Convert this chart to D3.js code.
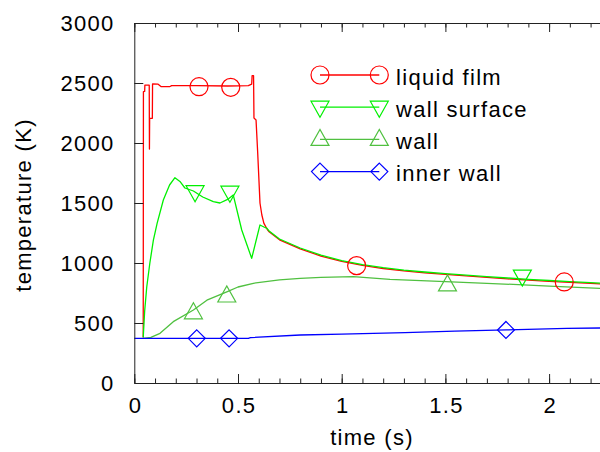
<!DOCTYPE html>
<html>
<head>
<meta charset="utf-8">
<script src="https://cdn.jsdelivr.net/npm/d3@7"></script>
<style>
  body { margin: 0; background: #fff; }
  svg { display: block; }
  text { font-family: "Liberation Sans", Arial, Helvetica, sans-serif; font-size: 22px; letter-spacing: 1.3px; fill: #000; }
  .line { fill: none; stroke-width: 1.3; stroke-linejoin: round; }
  .marker { fill: none; stroke-width: 1.2; }
</style>
</head>
<body>
<script>
// series data: [time (s), temperature (K)]
var liquidFilm = [
  [0.043, 380], [0.044, 2428], [0.050, 2430], [0.051, 2483], [0.072, 2483],
  [0.073, 1950], [0.074, 2206], [0.087, 2206], [0.088, 2492], [0.115, 2490],
  [0.13, 2469], [0.17, 2469], [0.18, 2478], [0.3, 2478], [0.45, 2475],
  [0.55, 2478], [0.566, 2490], [0.568, 2561], [0.575, 2561], [0.577, 2208],
  [0.587, 2192], [0.595, 1917], [0.606, 1500], [0.615, 1400], [0.625, 1330],
  [0.64, 1283], [0.65, 1260], [0.7, 1193], [0.8, 1118], [0.9, 1058],
  [1.0, 1013], [1.1, 980], [1.2, 954], [1.3, 934], [1.4, 918], [1.5, 905],
  [1.6, 892], [1.7, 880], [1.8, 868], [1.9, 857], [2.0, 847], [2.1, 838],
  [2.2, 830], [2.3, 822]
];
var wallSurface = [
  [0.043, 380], [0.05, 600], [0.06, 800], [0.075, 1000], [0.092, 1190],
  [0.11, 1330], [0.14, 1525], [0.17, 1650], [0.196, 1711], [0.22, 1680],
  [0.244, 1625], [0.285, 1600], [0.33, 1550], [0.381, 1511], [0.413, 1500],
  [0.45, 1530], [0.477, 1567], [0.518, 1275], [0.566, 1039], [0.606, 1317],
  [0.625, 1300], [0.64, 1288], [0.65, 1266], [0.7, 1200], [0.8, 1125],
  [0.9, 1065], [1.0, 1020], [1.1, 987], [1.2, 961], [1.3, 941], [1.4, 925],
  [1.5, 912], [1.6, 899], [1.7, 887], [1.8, 875], [1.9, 864], [2.0, 854],
  [2.1, 844], [2.2, 836], [2.3, 828]
];
var wall = [
  [0.043, 372], [0.08, 380], [0.124, 414], [0.188, 511], [0.285, 608],
  [0.35, 690], [0.446, 760], [0.5, 800], [0.574, 831], [0.7, 860],
  [0.8, 872], [0.9, 880], [1.056, 886], [1.233, 864], [1.5, 844],
  [1.7, 831], [2.0, 808], [2.3, 785]
];
var innerWall = [
  [0.0, 372], [0.55, 372], [0.56, 378], [0.8, 400], [1.0, 408], [1.305, 419],
  [1.546, 433], [1.795, 442], [2.085, 456], [2.3, 459]
];

// marker points
var liquidFilmMarks = [[0.312, 2469], [0.465, 2464], [1.072, 978], [2.073, 842]];
var wallSurfaceMarks = [[0.293, 1594], [0.461, 1590], [1.871, 891]];
var wallMarks = [[0.285, 585], [0.446, 725], [1.51, 817]];
var innerWallMarks = [[0.301, 372], [0.457, 372], [1.792, 442]];

var legendLabels = ["liquid film", "wall surface", "wall", "inner wall"];
var xLabels = [0, 0.5, 1, 1.5, 2];
var xMajor = [0, 0.5, 1, 1.5, 2, 2.5];
var xMinor = d3.range(0, 26).map(function(i) { return i / 10; });
var yTicks = [0, 500, 1000, 1500, 2000, 2500, 3000];

var width = 600, height = 452;
var x = d3.scaleLinear().domain([0, 2.5]).range([134.3, 652.8]);
var y = d3.scaleLinear().domain([0, 3000]).range([383, 23]);

var svg = d3.select("body").append("svg")
    .attr("width", width)
    .attr("height", height);

var series = [
  {name: legendLabels[0], data: liquidFilm, marks: liquidFilmMarks, color: "#ff0000", shape: "circle"},
  {name: legendLabels[1], data: wallSurface, marks: wallSurfaceMarks, color: "#00f000", shape: "down"},
  {name: legendLabels[2], data: wall, marks: wallMarks, color: "#50c040", shape: "up"},
  {name: legendLabels[3], data: innerWall, marks: innerWallMarks, color: "#0000ff", shape: "diamond"}
];

function markerPath(shape) {
  if (shape == "circle") return "M9,0A9,9 0 1,1 -9,0A9,9 0 1,1 9,0Z";
  if (shape == "down") return "M-9,-6L9,-6L0,10Z";
  if (shape == "up") return "M-9,6L9,6L0,-10Z";
  return "M0,-8.5L8.5,0L0,8.5L-8.5,0Z";
}

var valueline = d3.line()
    .x(function(d) { return x(d[0]); })
    .y(function(d) { return y(d[1]); });

// lines and markers
series.forEach(function(s) {
  svg.append("path")
      .datum(s.data)
      .attr("class", "line")
      .attr("stroke", s.color)
      .attr("d", valueline);
});
series.forEach(function(s) {
  svg.selectAll(null)
      .data(s.marks)
      .enter().append("path")
      .attr("class", "marker")
      .attr("stroke", s.color)
      .attr("d", markerPath(s.shape))
      .attr("transform", function(d) { return "translate(" + x(d[0]) + "," + y(d[1]) + ")"; });
});

// axes (ticks point inward)
svg.append("g")
    .attr("transform", "translate(0," + y(0) + ")")
    .call(d3.axisBottom(x).tickValues(xMinor).tickSize(-4.5).tickSizeOuter(0).tickFormat(""));
svg.append("g")
    .attr("transform", "translate(0," + y(0) + ")")
    .call(d3.axisBottom(x).tickValues(xMajor).tickSize(-9).tickSizeOuter(0).tickFormat(""));
svg.append("g")
    .attr("class", "xaxis")
    .attr("transform", "translate(0," + y(0) + ")")
    .call(d3.axisBottom(x).tickValues(xLabels).tickSize(0).tickSizeOuter(0)
      .tickFormat(function(d) { return d; }));
svg.append("g")
    .attr("transform", "translate(0," + y(3000) + ")")
    .call(d3.axisTop(x).tickValues(xMinor).tickSize(-4.5).tickSizeOuter(0).tickFormat(""));
svg.append("g")
    .attr("transform", "translate(0," + y(3000) + ")")
    .call(d3.axisTop(x).tickValues(xMajor).tickSize(-9).tickSizeOuter(0).tickFormat(""));
svg.append("g")
    .attr("class", "yaxis")
    .attr("transform", "translate(" + x(0) + ",0)")
    .call(d3.axisLeft(y).tickValues(yTicks).tickSize(-9).tickSizeOuter(0)
      .tickFormat(d3.format("d")));

svg.selectAll(".domain, .tick line").attr("stroke", "#222");
svg.selectAll(".tick text")
    .attr("fill", "#000")
    .style("font-size", "22px")
    .style("font-family", "\"Liberation Sans\", Arial, Helvetica, sans-serif");
svg.selectAll(".xaxis .tick text").attr("y", 0).attr("dy", 30).attr("x", 0.6);
svg.selectAll(".yaxis .tick text").attr("x", -19.7).attr("dy", 7.7);

// axis titles
svg.append("text")
    .attr("x", 372)
    .attr("y", 445)
    .attr("text-anchor", "middle")
    .text("time (s)");
svg.append("text")
    .attr("transform", "translate(31,205) rotate(-90)")
    .attr("text-anchor", "middle")
    .text("temperature (K)");

// legend
var legend = svg.selectAll(".legend")
    .data(series)
    .enter().append("g")
    .attr("class", "legend")
    .attr("transform", function(d, i) { return "translate(0," + (75 + i * 32.2) + ")"; });
legend.append("line")
    .attr("x1", 320).attr("x2", 379.3)
    .attr("stroke", function(d) { return d.color; })
    .attr("stroke-width", 1.3);
legend.selectAll(null)
    .data(function(d) { return [[320, d], [379.3, d]]; })
    .enter().append("path")
    .attr("class", "marker")
    .attr("stroke", function(p) { return p[1].color; })
    .attr("d", function(p) { return markerPath(p[1].shape); })
    .attr("transform", function(p) { return "translate(" + p[0] + ",0)"; });
legend.append("text")
    .attr("x", 396)
    .attr("y", 9.7)
    .text(function(d) { return d.name; });
</script>
</body>
</html>
